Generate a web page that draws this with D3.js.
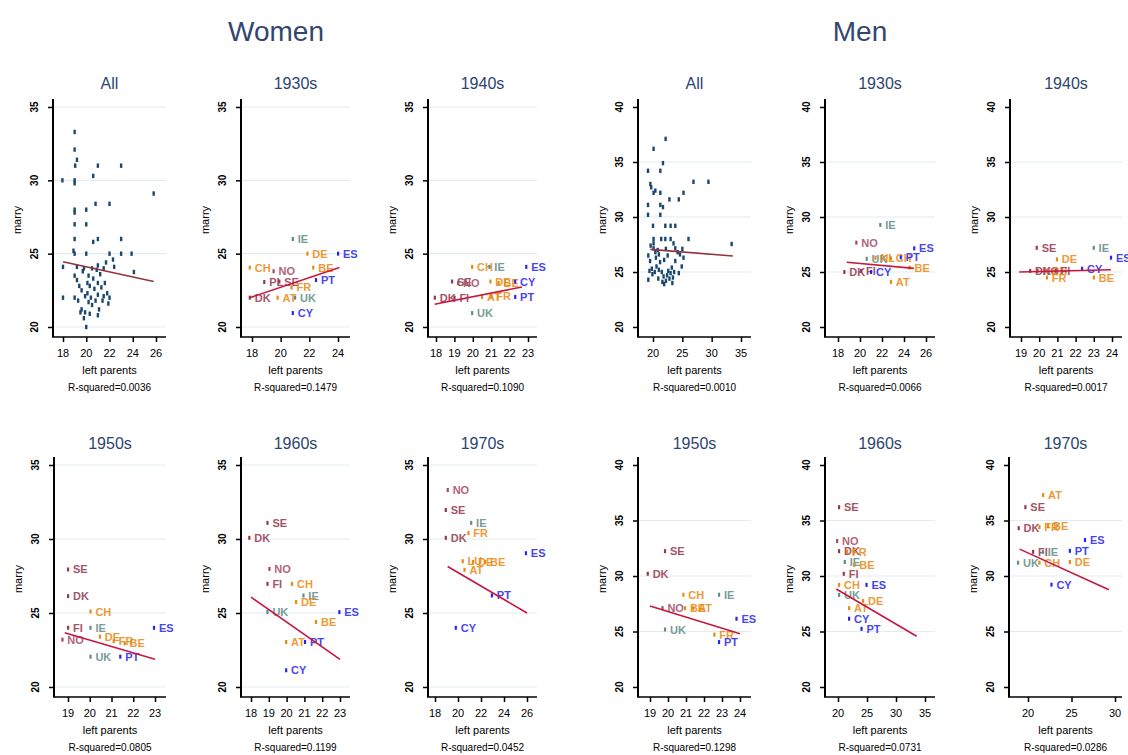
<!DOCTYPE html>
<html>
<head>
<meta charset="utf-8">
<script src="https://cdn.jsdelivr.net/npm/d3@7"></script>
<style>
  body { margin: 0; background: #fff; }
  text { font-family: "Liberation Sans", Arial, sans-serif; }
</style>
</head>
<body>
<svg id="chart" width="1128" height="755"></svg>
<script>
// ---- data ----
const decades = ['All', '1930s', '1940s', '1950s', '1960s', '1970s'];

const womenAll = [
  [17.95, 30.0], [18, 24.1], [18, 22.0], [19.0, 33.3], [19.0, 32.1], [19.2, 31.4], [19.05, 31.0],
  [19, 30.0], [19, 29.8], [19, 28.0], [19, 27.8], [19, 27.0], [19, 26.0], [18.9, 25.2], [19.0, 25.0],
  [20.0, 28.0], [20.0, 27.0], [20, 25.0], [20.6, 30.3], [21.0, 31.0], [20.8, 28.4], [20.6, 25.8],
  [21.0, 26.0], [22.0, 28.4], [23.0, 31.0], [23.0, 26.0], [23.0, 25.0], [23.9, 25.0], [24.1, 23.75],
  [25.8, 29.1], [22, 25], [21.7, 24.4], [22.3, 24.6], [22.4, 24.1],
  [19.0, 23.5], [19.2, 23.2], [19.4, 22.8], [19.6, 22.5], [19.0, 22.0], [19.3, 21.8], [19.6, 21.2],
  [19.9, 21.0], [19.5, 21.0], [19.8, 20.6], [20.0, 20.0], [20.1, 22.3], [20.1, 23.0], [20.2, 23.5],
  [20.3, 22.8], [20.4, 22.0], [20.5, 21.5], [20.6, 23.3], [20.7, 22.6], [20.8, 21.8], [21.0, 22.2],
  [21.0, 23.0], [21.1, 21.2], [21.2, 23.6], [21.3, 22.7], [21.4, 21.8], [21.5, 22.1], [21.6, 23.0],
  [21.8, 22.3], [21.9, 21.6], [22.0, 22.0], [21.0, 20.8], [20.3, 20.9], [19.7, 23.8], [20.5, 24.0],
  [21.0, 24.2], [21.5, 24.0], [19.2, 24.1], [19.8, 24.0], [20.2, 21.7], [20.9, 23.9], [19.9, 22.1]
];
const women1930s = [
  ['IE', 20.84, 26.0], ['DE', 21.86, 25.0], ['ES', 24.0, 25.0], ['CH', 17.84, 24.05], ['NO', 19.5, 23.8],
  ['BE', 22.27, 24.05], ['PL', 18.85, 23.07], ['SE', 19.9, 23.1], ['FR', 20.75, 22.7], ['PT', 22.46, 23.2],
  ['DK', 17.84, 22.0], ['AT', 19.78, 22.0], ['UK', 21.0, 22.0], ['CY', 20.84, 20.95]
];
const women1940s = [
  ['CH', 19.96, 24.1], ['IE', 20.9, 24.1], ['ES', 22.9, 24.1], ['SE', 18.87, 23.1], ['NO', 19.2, 23.0],
  ['DE', 20.95, 23.1], ['BE', 21.4, 23.0], ['CY', 22.3, 23.1], ['DK', 17.93, 22.0], ['FI', 19.0, 22.0],
  ['AT', 20.5, 22.05], ['FR', 21.0, 22.1], ['PT', 22.3, 22.05], ['UK', 19.96, 20.95]
];
const women1950s = [
  ['SE', 19.0, 27.94], ['DK', 19.0, 26.14], ['CH', 20.03, 25.1], ['ES', 22.95, 24.0], ['FI', 19.0, 24.0],
  ['IE', 20.03, 24.0], ['NO', 18.74, 23.2], ['DE', 20.46, 23.4], ['FR', 21.1, 23.1], ['BE', 21.6, 22.95],
  ['UK', 20.03, 22.05], ['PT', 21.4, 22.05]
];
const women1960s = [
  ['SE', 18.92, 31.09], ['DK', 17.9, 30.08], ['NO', 19.03, 27.98], ['FI', 18.92, 26.97], ['CH', 20.3, 26.97],
  ['IE', 20.94, 26.18], ['DE', 20.53, 25.74], ['UK', 18.92, 25.06], ['ES', 22.96, 25.06], ['BE', 21.65, 24.39],
  ['AT', 19.97, 23.04], ['PT', 21.03, 23.04], ['CY', 19.97, 21.13]
];
const women1970s = [
  ['NO', 19.1, 33.31], ['SE', 18.93, 31.96], ['IE', 21.14, 31.09], ['FR', 20.9, 30.4], ['DK', 18.93, 30.08],
  ['ES', 25.9, 29.04], ['LU', 20.4, 28.5], ['DE', 21.3, 28.45], ['BE', 22.35, 28.45], ['AT', 20.56, 27.92],
  ['PT', 22.94, 26.19], ['CY', 19.8, 24.0]
];

const menAll = [
  [22.15, 37.1], [20.1, 36.2], [21.7, 34.9], [19.15, 34.2], [21.25, 34.2], [19.55, 33.0], [19.7, 32.7],
  [20.1, 32.2], [20.4, 32.4], [21.25, 32.2], [19.15, 31.1], [19.15, 30.2], [21.25, 31.1], [21.7, 30.9],
  [22.8, 31.6], [24.4, 31.6], [25.2, 32.2], [26.9, 33.2], [29.45, 33.2], [21.25, 30.2], [20.0, 29.2],
  [22.1, 29.2], [23.0, 29.2], [23.8, 29.2], [26.05, 28.0], [33.4, 27.55], [20.1, 28.0], [20.1, 27.6],
  [20.1, 27.15], [21.4, 28.0], [22.1, 28.0], [23.0, 28.0], [23.5, 27.6], [23.8, 27.15],
  [19.2, 26.5], [19.5, 26.0], [19.8, 25.3], [19.4, 25.1], [19.9, 24.8], [19.2, 24.3], [20.3, 25.0],
  [20.6, 25.5], [20.5, 26.3], [21.0, 26.6], [21.2, 25.9], [21.0, 25.2], [20.9, 24.4], [21.5, 25.0],
  [21.8, 24.6], [21.6, 24.1], [21.9, 23.9], [22.2, 24.2], [22.4, 24.7], [22.6, 25.1], [22.8, 24.4],
  [23.0, 24.9], [23.2, 25.4], [23.4, 24.5], [23.6, 25.0], [23.3, 24.0], [22.5, 26.5], [21.9, 26.1],
  [20.4, 26.8], [23.8, 26.0], [24.6, 26.6], [24.9, 25.5], [24.4, 24.9], [25.2, 26.3], [20.8, 27.0],
  [22.2, 27.1], [19.6, 27.4], [24.2, 26.8], [25.0, 27.1]
];
const men1930s = [
  ['IE', 21.84, 29.28], ['NO', 19.66, 27.67], ['ES', 24.92, 27.15], ['UK', 20.6, 26.2], ['NL', 21.4, 26.3],
  ['CH', 22.8, 26.24], ['PT', 23.7, 26.33], ['BE', 24.5, 25.4], ['DK', 18.57, 25.0], ['FI', 20.1, 25.1],
  ['CY', 21.0, 25.0], ['AT', 22.8, 24.1]
];
const men1940s = [
  ['SE', 19.86, 27.2], ['IE', 22.99, 27.2], ['ES', 23.94, 26.3], ['DE', 20.97, 26.15], ['DK', 19.5, 25.1],
  ['NO', 19.9, 25.1], ['CH', 20.4, 25.1], ['FI', 20.9, 25.1], ['CY', 22.35, 25.3], ['FR', 20.42, 24.5],
  ['BE', 23.0, 24.5]
];
const men1950s = [
  ['SE', 19.83, 32.24], ['DK', 18.87, 30.2], ['CH', 20.85, 28.31], ['IE', 22.83, 28.31], ['NO', 19.69, 27.1],
  ['BE', 20.94, 27.1], ['AT', 21.4, 27.1], ['ES', 23.8, 26.15], ['UK', 19.83, 25.18], ['FR', 22.57, 24.72],
  ['PT', 22.83, 24.05]
];
const men1960s = [
  ['SE', 20.17, 36.2], ['NO', 19.83, 33.15], ['DK', 20.17, 32.24], ['FR', 21.56, 32.2], ['IE', 21.15, 31.26],
  ['BE', 22.8, 31.0], ['FI', 20.98, 30.2], ['ES', 24.9, 29.2], ['CH', 20.17, 29.2], ['UK', 20.17, 28.3],
  ['DE', 24.3, 27.76], ['AT', 21.9, 27.1], ['CY', 21.9, 26.15], ['PT', 24.04, 25.24]
];
const men1970s = [
  ['AT', 21.73, 37.29], ['SE', 19.69, 36.2], ['DK', 18.92, 34.31], ['FR', 21.3, 34.4], ['BE', 22.3, 34.5],
  ['ES', 26.54, 33.24], ['PT', 24.8, 32.27], ['FI', 20.58, 32.18], ['IE', 21.7, 32.18], ['UK', 18.85, 31.2],
  ['CH', 21.3, 31.2], ['DE', 24.8, 31.26], ['CY', 22.69, 29.22]
];

// fitted lines: [x0, y0, x1, y1] in decade order
const womenFits = [
  [18, 24.45, 25.8, 23.1], [17.84, 22.0, 24.1, 24.05], [17.93, 21.55, 22.67, 22.73],
  [18.85, 23.67, 23.0, 21.87], [18.0, 26.07, 23.0, 21.87], [19.1, 28.14, 26.0, 25.0]
];
const menFits = [
  [19.55, 27.06, 33.6, 26.45], [18.8, 25.88, 24.9, 25.33], [18.9, 25.0, 23.94, 25.2],
  [19.0, 27.3, 24.0, 24.8], [19.7, 28.83, 33.56, 24.57], [19.04, 32.42, 29.3, 28.77]
];
const womenR2 = ['0.0036', '0.1479', '0.1090', '0.0805', '0.1199', '0.0452'];
const menR2 = ['0.0010', '0.0066', '0.0017', '0.1298', '0.0731', '0.0286'];

// x ticks per panel
const womenXTicks = [[18, 20, 22, 24, 26], [18, 20, 22, 24], [18, 19, 20, 21, 22, 23],
                     [19, 20, 21, 22, 23], [18, 19, 20, 21, 22, 23], [18, 20, 22, 24, 26]];
const menXTicks = [[20, 25, 30, 35], [18, 20, 22, 24, 26], [19, 20, 21, 22, 23, 24],
                   [19, 20, 21, 22, 23, 24], [20, 25, 30, 35], [20, 25, 30]];
const womenYTicks = [20, 25, 30, 35];
const menYTicks = [20, 25, 30, 35, 40];

// ---- colours ----
const groupColor = {
  SE: '#93384e', DK: '#93384e', NO: '#a34a66', FI: '#93384e', PL: '#93384e',
  CH: '#e88a12', DE: '#e88a12', FR: '#e88a12', AT: '#e88a12', BE: '#e88a12', LU: '#e88a12', NL: '#e88a12',
  IE: '#5e8c86', UK: '#5e8c86',
  ES: '#2626ee', PT: '#2626ee', CY: '#2626ee'
};

// ---- layout ----
const rows = [
  { top: 107, bottom: 327, title: 89 },
  { top: 465, bottom: 687, title: 449 }
];
// axis left, right end, first/last tick pixel
const womenCols = [
  [[53, 166, 63, 156], [241, 350, 252, 338], [428, 537, 436, 528]],
  [[54, 166, 68, 155], [241, 350, 251, 340], [428, 537, 435, 527]]
];
const menCols = [
  [[638, 751, 653, 741], [825, 935, 838, 926], [1010, 1122, 1021, 1112]],
  [[638, 751, 650, 740], [825, 935, 838, 925], [1009, 1122, 1028, 1115]]
];

const svg = d3.select('#chart');

function drawPanel(opts) {
  const row = rows[opts.row];
  const [axL, axR, p0, p1] = opts.col;
  const xt = opts.xTicks;
  const yt = opts.yTicks;
  const x = d3.scaleLinear().domain([xt[0], xt[xt.length - 1]]).range([p0, p1]);
  const y = d3.scaleLinear().domain([yt[0], yt[yt.length - 1]]).range([row.bottom, row.top]);
  const g = svg.append('g');
  const axisY = row.bottom + 10;

  // grid
  g.selectAll('.grid').data(opts.grid).enter().append('line')
    .attr('x1', axL).attr('x2', axR)
    .attr('y1', d => y(d)).attr('y2', d => y(d))
    .style('stroke', '#e2ebef').style('stroke-width', 1.2);

  // y axis
  const ya = g.append('g').attr('transform', `translate(${axL},0)`)
    .call(d3.axisLeft(y).tickValues(yt).tickSize(5).tickFormat(''));
  ya.select('.domain').remove();
  ya.selectAll('line').style('stroke', '#000').style('stroke-width', 1.5);
  g.append('line').attr('x1', axL).attr('x2', axL).attr('y1', row.top - 8).attr('y2', axisY)
    .style('stroke', '#000').style('stroke-width', 2);
  g.selectAll('.ylab').data(yt).enter().append('text')
    .attr('transform', d => `translate(${axL - 15},${y(d)}) rotate(-90)`)
    .attr('text-anchor', 'middle')
    .style('font-size', '10px').style('font-weight', 'bold')
    .text(d => d);
  g.append('text')
    .attr('transform', `translate(${axL - 32},${(row.top + row.bottom) / 2 + 3}) rotate(-90)`)
    .attr('text-anchor', 'middle')
    .style('font-size', '11px')
    .text('marry');

  // x axis
  const xa = g.append('g').attr('transform', `translate(0,${axisY})`)
    .call(d3.axisBottom(x).tickValues(xt).tickSize(5).tickFormat(''));
  xa.select('.domain').remove();
  xa.selectAll('line').style('stroke', '#000').style('stroke-width', 1.5);
  g.append('line').attr('x1', axL - 1).attr('x2', axR).attr('y1', axisY).attr('y2', axisY)
    .style('stroke', '#000').style('stroke-width', 1.5);
  g.selectAll('.xlab').data(xt).enter().append('text')
    .attr('x', d => x(d)).attr('y', axisY + 20)
    .attr('text-anchor', 'middle')
    .style('font-size', '11px')
    .text(d => d);
  const cx = (axL + axR) / 2;
  g.append('text').attr('x', cx).attr('y', axisY + 37).attr('text-anchor', 'middle')
    .style('font-size', '11px').text('left parents');
  g.append('text').attr('x', cx).attr('y', axisY + 54).attr('text-anchor', 'middle')
    .style('font-size', '10px').text('R-squared=' + opts.r2);

  // title
  g.append('text').attr('x', cx).attr('y', row.title).attr('text-anchor', 'middle')
    .style('font-size', '16px').style('fill', '#2c4470').text(opts.title);

  // points
  if (opts.labelled) {
    const pts = g.selectAll('.pt').data(opts.points).enter().append('g');
    pts.append('rect')
      .attr('x', d => x(d[1]) - 1).attr('y', d => y(d[2]) - 2)
      .attr('width', 2.2).attr('height', 4)
      .style('fill', d => groupColor[d[0]]);
    pts.append('text')
      .attr('x', d => x(d[1]) + 5).attr('y', d => y(d[2]) + 4)
      .style('font-size', '11px').style('font-weight', 'bold')
      .style('fill', d => groupColor[d[0]]).style('opacity', 0.85)
      .text(d => d[0]);
  } else {
    g.selectAll('.pt').data(opts.points).enter().append('rect')
      .attr('x', d => x(d[0]) - 1.2).attr('y', d => y(d[1]) - 2.2)
      .attr('width', 2.4).attr('height', 4.4)
      .style('fill', '#1a476f');
  }

  // fit line
  const f = opts.fit;
  g.append('path')
    .datum([[f[0], f[1]], [f[2], f[3]]])
    .attr('d', d3.line().x(d => x(d[0])).y(d => y(d[1])))
    .style('fill', 'none')
    .style('stroke', opts.labelled ? '#c8173f' : '#90353b')
    .style('stroke-width', 1.6);
}

const womenPanels = [womenAll, women1930s, women1940s, women1950s, women1960s, women1970s];
const menPanels = [menAll, men1930s, men1940s, men1950s, men1960s, men1970s];

decades.forEach((dec, i) => {
  const r = Math.floor(i / 3), c = i % 3;
  drawPanel({
    row: r, col: womenCols[r][c], title: dec,
    xTicks: womenXTicks[i], yTicks: womenYTicks, grid: [20, 25, 30, 35],
    points: womenPanels[i], labelled: i > 0, fit: womenFits[i], r2: womenR2[i]
  });
  drawPanel({
    row: r, col: menCols[r][c], title: dec,
    xTicks: menXTicks[i], yTicks: menYTicks, grid: [25, 30, 35],
    points: menPanels[i], labelled: i > 0, fit: menFits[i], r2: menR2[i]
  });
});

// group titles
svg.append('text').attr('x', 276).attr('y', 41).attr('text-anchor', 'middle')
  .style('font-size', '28px').style('fill', '#34466e').text('Women');
svg.append('text').attr('x', 860).attr('y', 41).attr('text-anchor', 'middle')
  .style('font-size', '28px').style('fill', '#34466e').text('Men');
</script>
</body>
</html>
